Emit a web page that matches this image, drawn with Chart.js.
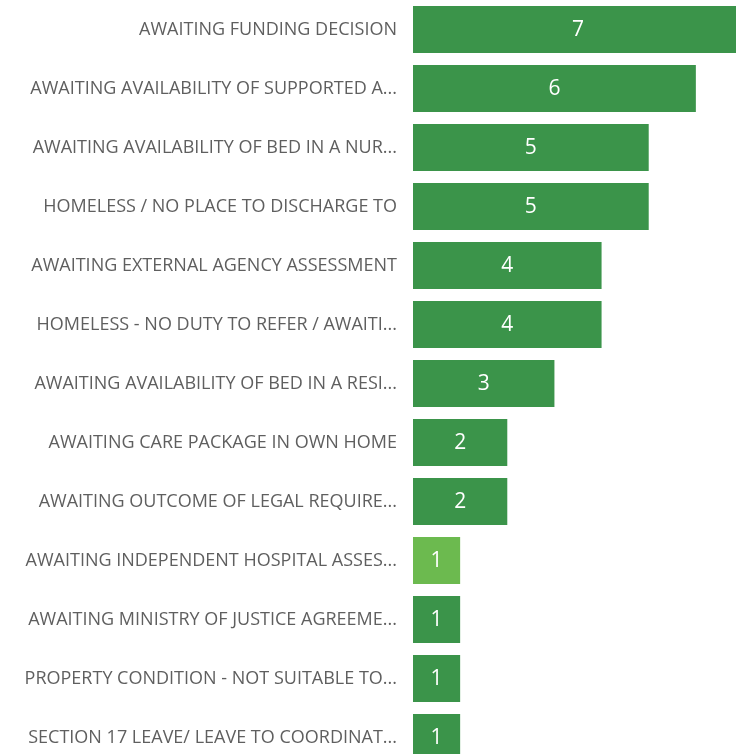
<!DOCTYPE html>
<html>
<head>
<meta charset="utf-8">
<script src="https://cdn.jsdelivr.net/npm/chart.js@4/dist/chart.umd.min.js"></script>
<style>
  html, body { margin: 0; padding: 0; background: #fff; overflow: hidden; }
  #wrap { width: 736px; height: 754px; overflow: hidden; position: relative; }
  canvas { position: absolute; left: 0; top: 0; }
</style>
</head>
<body>
<div id="wrap">
  <canvas id="grafico" width="743" height="767"></canvas>
</div>
<script>
const categorias = [
  'AWAITING FUNDING DECISION',
  'AWAITING AVAILABILITY OF SUPPORTED A...',
  'AWAITING AVAILABILITY OF BED IN A NUR...',
  'HOMELESS / NO PLACE TO DISCHARGE TO',
  'AWAITING EXTERNAL AGENCY ASSESSMENT',
  'HOMELESS - NO DUTY TO REFER / AWAITI...',
  'AWAITING AVAILABILITY OF BED IN A RESI...',
  'AWAITING CARE PACKAGE IN OWN HOME',
  'AWAITING OUTCOME OF LEGAL REQUIRE...',
  'AWAITING INDEPENDENT HOSPITAL ASSES...',
  'AWAITING MINISTRY OF JUSTICE AGREEME...',
  'PROPERTY CONDITION - NOT SUITABLE TO...',
  'SECTION 17 LEAVE/ LEAVE TO COORDINAT...'
];

const valores = [7, 6, 5, 5, 4, 4, 3, 2, 2, 1, 1, 1, 1];

// barra destacada (verde claro)
const destaque = [false, false, false, false, false, false, false, false, false, true, false, false, false];

const corPadrao = '#3b944a';
const corDestaque = '#6cba4f';

// rótulos de valor dentro das barras
const rotulosValor = {
  id: 'rotulosValor',
  afterDatasetsDraw(chart) {
    const ctx = chart.ctx;
    const meta = chart.getDatasetMeta(0);
    ctx.save();
    ctx.fillStyle = '#ffffff';
    ctx.font = '21px "Open Sans", sans-serif';
    ctx.textAlign = 'center';
    ctx.textBaseline = 'middle';
    meta.data.forEach((bar, i) => {
      const x = (bar.base + bar.x) / 2;
      ctx.fillText(String(valores[i]), x, bar.y + 1);
    });
    ctx.restore();
  }
};

const ctx = document.getElementById('grafico').getContext('2d');

new Chart(ctx, {
  type: 'bar',
  data: {
    labels: categorias,
    datasets: [{
      data: valores,
      backgroundColor: destaque.map(d => d ? corDestaque : corPadrao),
      borderWidth: 0,
      barPercentage: 0.8,
      categoryPercentage: 1
    }]
  },
  options: {
    indexAxis: 'y',
    responsive: false,
    animation: false,
    layout: { padding: 0 },
    plugins: {
      legend: { display: false },
      tooltip: { enabled: false }
    },
    scales: {
      x: {
        display: false,
        min: 0,
        max: 7
      },
      y: {
        grid: { display: false, drawTicks: false },
        border: { display: false },
        afterFit: scale => {
          scale.width = 413;
          scale.paddingTop = 0;
          scale.paddingBottom = 0;
        },
        ticks: {
          padding: 16,
          color: '#5f5f5f',
          autoSkip: false,
          font: { family: '"Open Sans", sans-serif', size: 18 }
        }
      }
    }
  },
  plugins: [rotulosValor]
});
</script>
</body>
</html>
